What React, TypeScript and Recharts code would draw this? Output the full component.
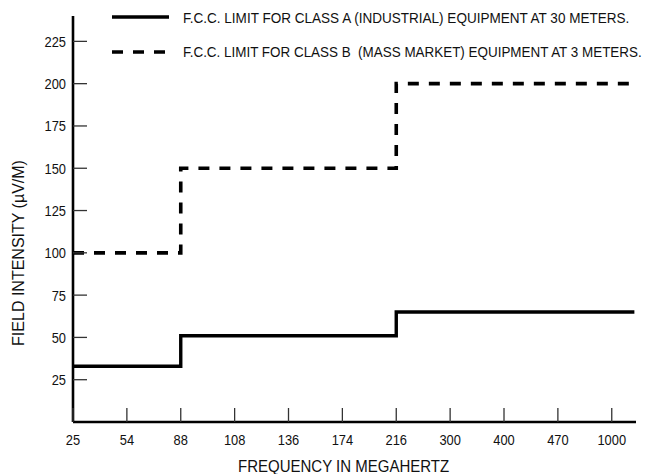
import { LineChart, Line, XAxis, YAxis } from "recharts";

// frequency tick labels (MHz), evenly spaced on the axis
const freqLabels = ["25", "54", "88", "108", "136", "174", "216", "300", "400", "470", "1000"];
const freqIndex = [0, 1, 2, 3, 4, 5, 6, 7, 8, 9, 10];
const yTicks = [25, 50, 75, 100, 125, 150, 175, 200, 225];

// step breakpoints (index on the frequency axis) and limit levels
const stepAt = [0, 2, 6, 10.42];
const classA = [33, 51, 65, 65];
const classB = [100, 150, 200, 200];

const FONT = "'Liberation Sans', Arial, sans-serif";

const data = stepAt.map((x, i) => ({ x, a: classA[i], b: classB[i] }));

// no condensed font installed, so squeeze text horizontally
const Narrow = ({ x, y, anchor = "start", size, sx = 0.86, children }: any) => (
  <text
    transform={`translate(${x} ${y}) scale(${sx} 1)`}
    dy="0.36em"
    textAnchor={anchor}
    fontSize={size}
    fontFamily={FONT}
    fill="#111"
    style={{ whiteSpace: "pre" }}
  >
    {children}
  </text>
);

const YTick = (props: any) => {
  const { x, y, payload } = props;
  return (
    <g>
      <line x1={x + 7} x2={x + 21} y1={y} y2={y} stroke="#333" strokeWidth={1.3} />
      <Narrow x={x} y={y} anchor="end" size={15}>{payload.value}</Narrow>
    </g>
  );
};

const XTick = (props: any) => {
  const { x, y, payload } = props;
  return (
    <g>
      <line x1={x} x2={x} y1={y - 12} y2={y - 26} stroke="#333" strokeWidth={1.3} />
      <Narrow x={x} y={y + 6} anchor="middle" size={15}>{freqLabels[payload.value]}</Narrow>
    </g>
  );
};

export default function App() {
  return (
    <div style={{ position: "relative", width: 648, height: 474, background: "#fff" }}>
      <style>{"body{margin:0;overflow:hidden}"}</style>
      <LineChart width={648} height={474} data={data} margin={{ top: 16, right: 12, left: 0, bottom: 0 }}>
        <XAxis
          type="number"
          dataKey="x"
          domain={[0, 10.45]}
          ticks={freqIndex}
          interval={0}
          tickSize={0}
          tickMargin={12}
          tickLine={false}
          height={52}
          axisLine={{ stroke: "#000", strokeWidth: 2.6 }}
          tick={<XTick />}
        />
        <YAxis
          type="number"
          domain={[0, 240]}
          ticks={yTicks}
          interval={0}
          tickSize={0}
          tickMargin={7}
          tickLine={false}
          width={73}
          axisLine={{ stroke: "#000", strokeWidth: 2.6 }}
          tick={<YTick />}
          label={() => (
            <text x={18} y={253} transform="rotate(-90 18 253)" textAnchor="middle" dy="0.36em"
              fontSize={16} fontFamily={FONT} fill="#111">
              FIELD INTENSITY (µV/M)
            </text>
          )}
        />
        <Line type="stepAfter" dataKey="a" stroke="#000" strokeWidth={3.4} dot={false} isAnimationActive={false} />
        <Line type="stepAfter" dataKey="b" stroke="#000" strokeWidth={3.6} strokeDasharray="11 10" dot={false} isAnimationActive={false} />
      </LineChart>
      <svg width={648} height={474} style={{ position: "absolute", left: 0, top: 0, pointerEvents: "none" }}>
        <line x1={112} x2={169} y1={17} y2={17} stroke="#000" strokeWidth={3.6} />
        <line x1={112} x2={169} y1={52} y2={52} stroke="#000" strokeWidth={3.6} strokeDasharray="11 10" />
        <Narrow x={183} y={18} size={14.5} sx={0.934}>
          F.C.C. LIMIT FOR CLASS A (INDUSTRIAL) EQUIPMENT AT 30 METERS.
        </Narrow>
        <Narrow x={183} y={52} size={14.5} sx={0.927}>
          {"F.C.C. LIMIT FOR CLASS B  (MASS MARKET) EQUIPMENT AT 3 METERS."}
        </Narrow>
        <Narrow x={238} y={466.5} size={16} sx={0.939}>
          FREQUENCY IN MEGAHERTZ
        </Narrow>
      </svg>
    </div>
  );
}
